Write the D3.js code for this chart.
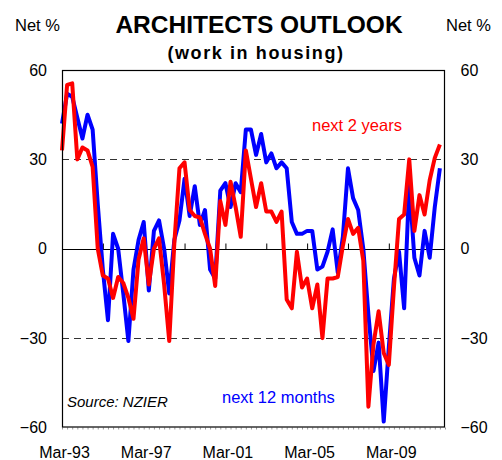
<!DOCTYPE html>
<html><head><meta charset="utf-8">
<script src="https://cdn.jsdelivr.net/npm/d3@7"></script>
<style>
body{margin:0;background:#fff;}
svg{display:block;font-family:"Liberation Sans",Arial,sans-serif;}
</style></head>
<body><svg id="c" width="502" height="460"></svg>
<script>
// Quarterly, Mar-93 .. Sep-11
const quarterCount = 76;
const xTickLabels = ["Mar-93","Mar-97","Mar-01","Mar-05","Mar-09"];
const xTickIndex = [0,16,32,48,64];
const yTicks = [-60,-30,0,30,60];
const next12months = [42,52,51,44,37,45,40,15,-7,-24,5,0,-15,-31,-7,3,9,-14,6,9.5,0,-15,3,9.5,23.5,11,21,8,13,-7,-10,19.5,22,14,22,19,40,40,31.5,38.5,29,32,27,29,27,9,5,5,6,6,-7,-6,-1,6.5,-8,4,27,17,13,0,-22,-41,-31.5,-58,-33,-10,-1,-20,22,-3,-9,6,-3,14,27];
const next2years = [33,55,55.5,30,34,33,27.5,0,-9,-10,-16.5,-9.5,-11.5,-16.5,-23.5,-3.5,3.5,-12,0,3.5,-12,-31,2,27,29,13,11,10.5,5,0,-12.5,16,8,22.5,14,4,33,23.5,14,22,12.5,12.5,9,12.5,-17,-20,-1,-13,-10,-20,-12,-30,-10,-10,-9.5,1,10,5,7,-4,-53,-32,-21,-35,-39,-13,10,11.5,30,6,18,11.5,23,30.5,35];

const svg = d3.select("#c");
const L=62,R=445,T=70,B=427.5;
const x = d3.scaleLinear().domain([0,quarterCount-1]).range([L,R]);
const y = d3.scaleLinear().domain([-60,60]).range([B,T]);
const FONT = "Liberation Sans, Arial, sans-serif";

// dashed gridlines at +-30
svg.selectAll("line.grid").data([30,-30]).join("line").attr("class","grid")
  .attr("x1",L).attr("x2",R).attr("y1",d=>Math.round(y(d))+0.5).attr("y2",d=>Math.round(y(d))+0.5)
  .attr("stroke","#333").attr("stroke-width",1).attr("stroke-dasharray","7,5");

// zero line with ticks upward
const zeroAxis = d3.axisTop(x).tickValues(d3.range(8,quarterCount,8)).tickSize(6).tickFormat("");
const gz = svg.append("g").attr("transform",`translate(0,${Math.round(y(0))+0.5})`).call(zeroAxis);
gz.select(".domain").attr("stroke","#000").attr("d",`M${L},0H${R}`);
gz.selectAll(".tick line").attr("stroke","#000");

// bottom minor quarter ticks
const minorAxis = d3.axisBottom(x).tickValues(d3.range(0,quarterCount)).tickSize(2).tickFormat("");
const gm = svg.append("g").attr("transform",`translate(0,${B})`).call(minorAxis);
gm.select(".domain").remove();
gm.selectAll(".tick line").attr("stroke","#999");

// lines
const line = d3.line().x((d,i)=>x(i)).y(d=>y(d));
svg.append("path").datum(next12months).attr("d",line).attr("fill","none")
  .attr("stroke","#0000ff").attr("stroke-width",4).attr("stroke-linejoin","round");
svg.append("path").datum(next2years).attr("d",line).attr("fill","none")
  .attr("stroke","#ff0000").attr("stroke-width",4).attr("stroke-linejoin","round");

// frame
svg.append("rect").attr("x",L+0.5).attr("y",T+0.5).attr("width",R-L-1).attr("height",B-T-1)
  .attr("fill","none").attr("stroke","#000").attr("stroke-width",1.2);

// y axes
const ly = d3.axisLeft(y).tickValues(yTicks).tickSize(0).tickPadding(15);
const gl = svg.append("g").attr("transform",`translate(${L},0)`).call(ly);
gl.select(".domain").remove();
gl.selectAll("text").attr("font-size",16).attr("font-family",FONT).attr("fill","#000");
const ry = d3.axisRight(y).tickValues(yTicks).tickSize(0).tickPadding(15.5);
const gr = svg.append("g").attr("transform",`translate(${R},0)`).call(ry);
gr.select(".domain").remove();
gr.selectAll("text").attr("font-size",16).attr("font-family",FONT).attr("fill","#000");

// x axis labels
const bx = d3.axisBottom(x).tickValues(xTickIndex).tickSize(0).tickPadding(19)
  .tickFormat((d,i)=>xTickLabels[i]);
const gb = svg.append("g").attr("transform",`translate(0,${B})`).call(bx);
gb.select(".domain").remove();
gb.selectAll("text").attr("font-size",16).attr("font-family",FONT).attr("fill","#000")
  .attr("dx","2px");

// titles
svg.append("text").attr("x",259).attr("y",33).attr("text-anchor","middle")
  .attr("font-size",24.5).attr("font-weight","bold").text("ARCHITECTS OUTLOOK");
svg.append("text").attr("x",256).attr("y",59).attr("text-anchor","middle")
  .attr("font-size",18).attr("font-weight","bold").attr("letter-spacing","1.6px").text("(work in housing)");
svg.append("text").attr("x",15).attr("y",31).attr("font-size",16.5).text("Net %");
svg.append("text").attr("x",446).attr("y",31).attr("font-size",16.5).text("Net %");

// annotations
svg.append("text").attr("x",312).attr("y",131).attr("font-size",16.5).attr("fill","#ff0000").text("next 2 years");
svg.append("text").attr("x",222).attr("y",403).attr("font-size",16.5).attr("fill","#0000ff").text("next 12 months");
svg.append("text").attr("x",67).attr("y",407).attr("font-size",15).attr("font-style","italic").attr("fill","#000").text("Source: NZIER");
</script></body></html>
